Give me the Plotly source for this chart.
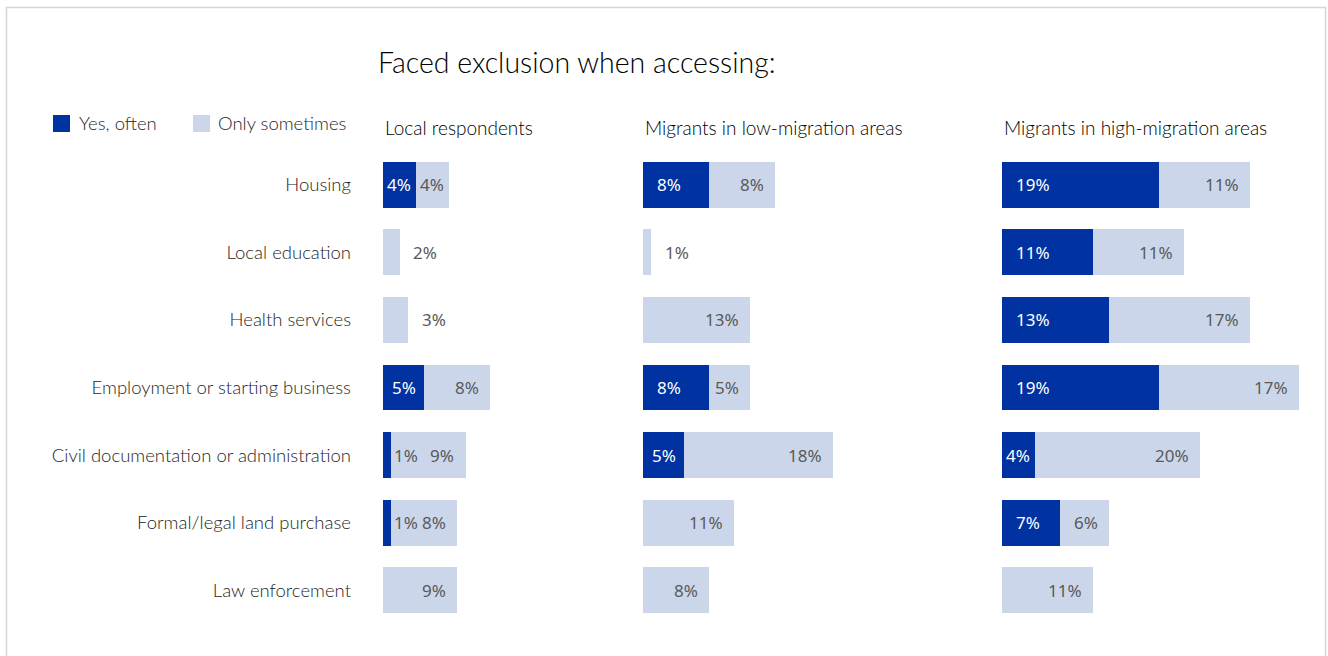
import plotly.graph_objects as go

categories = ["Housing", "Local education", "Health services",
              "Employment or starting business",
              "Civil documentation or administration",
              "Formal/legal land purchase", "Law enforcement"]
panel_titles = ["Local respondents", "Migrants in low-migration areas",
                "Migrants in high-migration areas"]
often_local = [4, 0, 0, 5, 1, 1, 0]
some_local = [4, 2, 3, 8, 9, 8, 9]
often_low = [8, 0, 0, 8, 5, 0, 0]
some_low = [8, 1, 13, 5, 18, 11, 8]
often_high = [19, 11, 13, 19, 4, 7, 0]
some_high = [11, 11, 17, 17, 20, 6, 11]

series = [(often_local, some_local), (often_low, some_low), (often_high, some_high)]

W, H = 1328, 656
BLUE = "#0033A1"
LIGHT = "#CCD6EA"
LABEL_FONT = "Lato, 'Open Sans', sans-serif"
NUM_FONT = "'Noto Sans', 'Open Sans', sans-serif"
LW = 300

PX_PER = 8.25
starts = [383, 643, 1002]
ranges = [26, 40, 38]

fig = go.Figure()
annotations = []
for i, (often, some) in enumerate(series):
    xa = "x" if i == 0 else f"x{i+1}"
    fig.add_trace(go.Bar(y=categories, x=often, orientation="h", xaxis=xa, yaxis="y",
                         marker=dict(color=BLUE, line=dict(width=0)), name="Yes, often",
                         showlegend=False, hoverinfo="skip"))
    fig.add_trace(go.Bar(y=categories, x=some, orientation="h", xaxis=xa, yaxis="y",
                         marker=dict(color=LIGHT, line=dict(width=0)), name="Only sometimes",
                         showlegend=False, hoverinfo="skip"))
    for cat, v, w in zip(categories, often, some):
        if v > 0:
            if v <= 2:
                annotations.append(dict(x=v, y=cat, xref=xa, yref="y", text=f"{v}%",
                                        xanchor="left", xshift=1, showarrow=False,
                                        font=dict(family=NUM_FONT, size=17, color="#595959")))
            elif v <= 5:
                annotations.append(dict(x=v / 2, y=cat, xref=xa, yref="y", text=f"{v}%",
                                        xanchor="center", showarrow=False,
                                        font=dict(family=NUM_FONT, size=17, color="white")))
            else:
                annotations.append(dict(x=0, y=cat, xref=xa, yref="y", text=f"{v}%",
                                        xanchor="left", xshift=12, showarrow=False,
                                        font=dict(family=NUM_FONT, size=17, color="white")))
        if w > 0:
            total = v + w
            if v == 0 and w <= 3:
                annotations.append(dict(x=total, y=cat, xref=xa, yref="y", text=f"{w}%",
                                        xanchor="left", xshift=12, showarrow=False,
                                        font=dict(family=NUM_FONT, size=17, color="#595959")))
            elif w <= 4:
                annotations.append(dict(x=v + w / 2, y=cat, xref=xa, yref="y", text=f"{w}%",
                                        xanchor="center", showarrow=False,
                                        font=dict(family=NUM_FONT, size=17, color="#595959")))
            else:
                annotations.append(dict(x=total, y=cat, xref=xa, yref="y", text=f"{w}%",
                                        xanchor="right", xshift=-9, showarrow=False,
                                        font=dict(family=NUM_FONT, size=17, color="#595959")))
    # panel title
    annotations.append(dict(x=starts[i] / W, y=1 - 127 / H, xref="paper", yref="paper",
                            text=panel_titles[i], xanchor="left", yanchor="middle",
                            showarrow=False,
                            font=dict(family=LABEL_FONT, size=19, color="#000000", weight=LW)))

# main title
annotations.append(dict(x=376 / W, y=1 - 62 / H, xref="paper", yref="paper",
                        text="Faced exclusion when accessing:", xanchor="left",
                        yanchor="middle", showarrow=False,
                        font=dict(family=LABEL_FONT, size=28.5, color="#000000", weight=LW)))
# legend texts
annotations.append(dict(x=77 / W, y=1 - 123.5 / H, xref="paper", yref="paper",
                        text="Yes, often", xanchor="left", yanchor="middle", showarrow=False,
                        font=dict(family=LABEL_FONT, size=18.5, color="#262626", weight=LW)))
annotations.append(dict(x=216 / W, y=1 - 123.5 / H, xref="paper", yref="paper",
                        text="Only sometimes", xanchor="left", yanchor="middle", showarrow=False,
                        font=dict(family=LABEL_FONT, size=18.5, color="#262626", weight=LW)))

shapes = [
    dict(type="rect", xref="paper", yref="paper", x0=53 / W, x1=70 / W,
         y0=1 - 132 / H, y1=1 - 115 / H, fillcolor=BLUE, line=dict(width=0)),
    dict(type="rect", xref="paper", yref="paper", x0=193 / W, x1=210 / W,
         y0=1 - 132 / H, y1=1 - 115 / H, fillcolor=LIGHT, line=dict(width=0)),
    dict(type="rect", xref="paper", yref="paper", x0=6.5 / W, x1=1325.5 / W,
         y0=-0.05, y1=1 - 7.5 / H, line=dict(color="#d6d6d6", width=1.5),
         fillcolor="rgba(0,0,0,0)", layer="below"),
]

layout = dict(
    width=W, height=H,
    margin=dict(l=0, r=0, t=0, b=0),
    paper_bgcolor="white", plot_bgcolor="white",
    barmode="stack", bargap=0.32,
    showlegend=False,
    annotations=annotations, shapes=shapes,
    yaxis=dict(domain=[1 - 624 / H, 1 - 151 / H], categoryorder="array",
               categoryarray=categories, range=[6.5, -0.5], showgrid=False,
               zeroline=False, showline=False, ticks="", ticklabelstandoff=31,
               tickfont=dict(family=LABEL_FONT, size=18.5, color="#262626", weight=LW),
               anchor="x", fixedrange=True),
)
for i in range(3):
    key = "xaxis" if i == 0 else f"xaxis{i+1}"
    layout[key] = dict(domain=[starts[i] / W, (starts[i] + ranges[i] * PX_PER) / W],
                       range=[0, ranges[i]], visible=False, anchor="y", fixedrange=True)
fig.update_layout(**layout)
fig.write_html("out.html", config={"displayModeBar": False},
               post_script="document.body.style.margin='0';document.body.style.padding='0';")
